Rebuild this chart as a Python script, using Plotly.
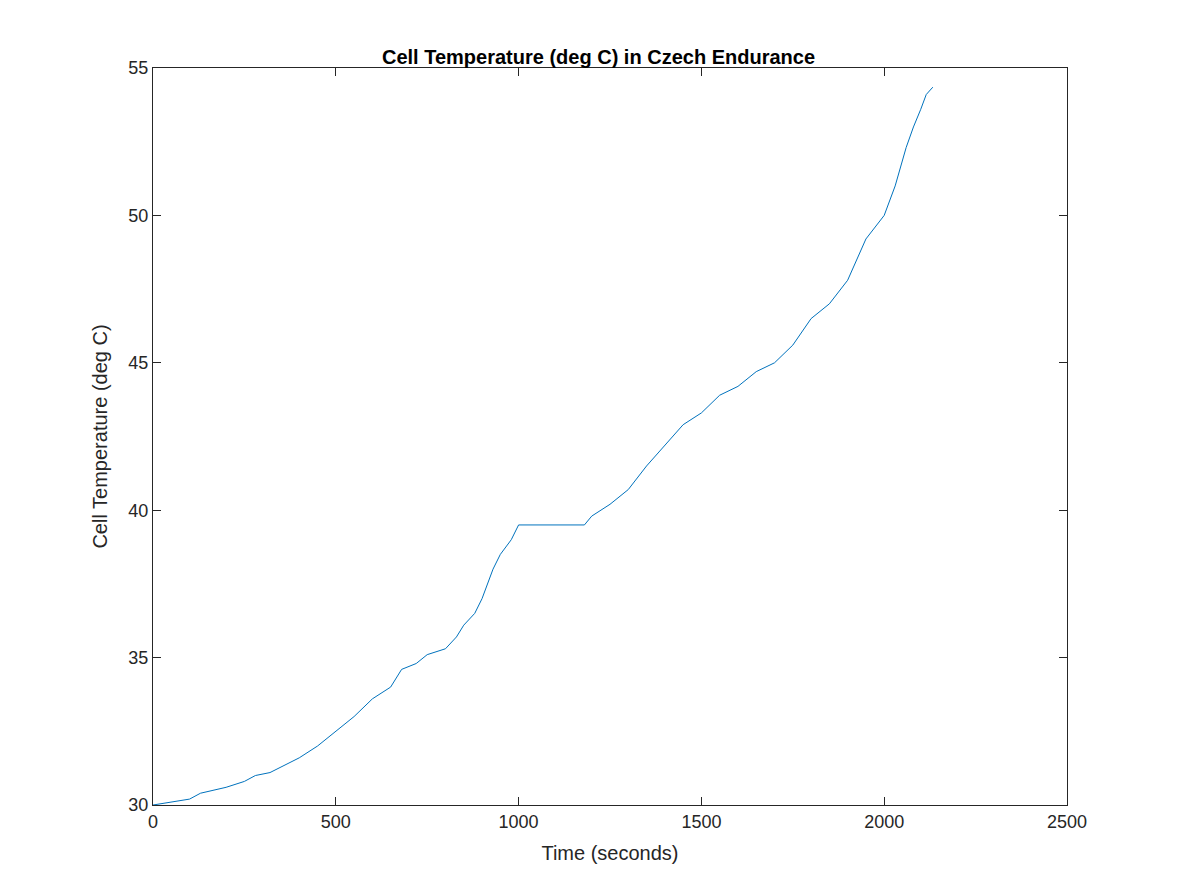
import plotly.graph_objects as go

# Time (s) and cell temperature (deg C)
time_s = [0, 50, 100, 130, 200, 250, 280, 320, 400, 450, 500, 550, 600, 650, 680,
          720, 750, 800, 830, 850, 880, 900, 930, 950, 980, 1000, 1180, 1200, 1250,
          1300, 1350, 1400, 1450, 1500, 1550, 1600, 1650, 1700, 1750, 1800, 1850,
          1900, 1950, 2000, 2030, 2060, 2080, 2100, 2115, 2133]
temp_c = [30.0, 30.1, 30.2, 30.4, 30.6, 30.8, 31.0, 31.1, 31.6, 32.0, 32.5, 33.0,
          33.6, 34.0, 34.6, 34.8, 35.1, 35.3, 35.7, 36.1, 36.5, 37.0, 38.0, 38.5,
          39.0, 39.5, 39.5, 39.8, 40.2, 40.7, 41.5, 42.2, 42.9, 43.3, 43.9, 44.2,
          44.7, 45.0, 45.6, 46.5, 47.0, 47.8, 49.2, 50.0, 51.0, 52.3, 53.0, 53.6,
          54.1, 54.35]

AXIS_COLOUR = 'rgb(38,38,38)'
LINE_COLOUR = '#0072BD'

fig = go.Figure(go.Scatter(x=time_s, y=temp_c, mode='lines',
                           line={"color": LINE_COLOUR, "width": 1}))

axis_style = dict(showgrid=False, zeroline=False, showline=True, mirror='ticks',
                  linecolor=AXIS_COLOUR, linewidth=1, ticks='inside', ticklen=8,
                  tickcolor=AXIS_COLOUR, tickfont={"size": 18, "color": AXIS_COLOUR})

fig.update_xaxes(range=[0, 2500], tickvals=[0, 500, 1000, 1500, 2000, 2500],
                 title={"text": "Time (seconds)", "font": {"size": 20, "color": AXIS_COLOUR}},
                 **axis_style)
fig.update_yaxes(range=[30, 55], tickvals=[30, 35, 40, 45, 50, 55],
                 title={"text": "Cell Temperature (deg C)", "font": {"size": 20, "color": AXIS_COLOUR}},
                 **axis_style)

fig.update_layout(
    width=1181, height=886,
    margin={"l": 145, "r": 122, "t": 60, "b": 89},
    plot_bgcolor='white', paper_bgcolor='white',
    font={"family": "Liberation Sans, Arial, sans-serif"},
    title={"text": "<b>Cell Temperature (deg C) in Czech Endurance</b>",
           "x": 0.5, "xanchor": 'center', "y": 0.945, "yanchor": 'middle',
           "font": {"size": 20, "color": 'black'}},
    showlegend=False,
)

fig.write_html("out.html")
